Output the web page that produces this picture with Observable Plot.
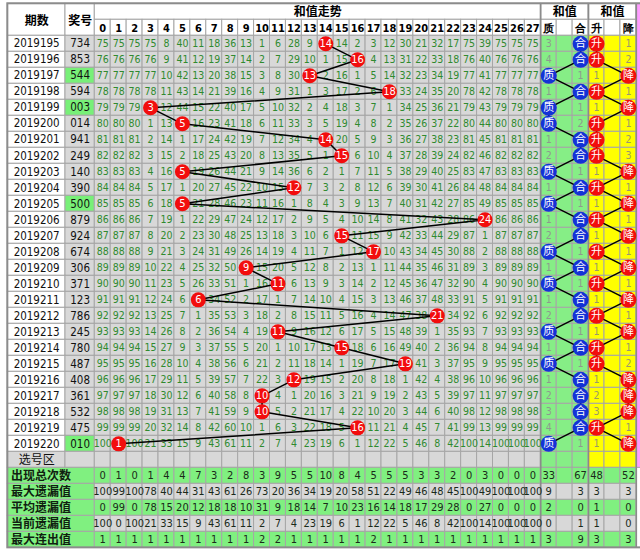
<!DOCTYPE html>
<html><head><meta charset="utf-8">
<script src="https://cdn.jsdelivr.net/npm/d3@7"></script>
<script src="https://cdn.jsdelivr.net/npm/@observablehq/plot@0.6"></script>
<style>body{margin:0;background:#fff;}</style>
</head><body><div id="chart"></div>
<script>
// ---------- data ----------
const periods = ["2019195","2019196","2019197","2019198","2019199","2019200","2019201","2019202","2019203","2019204","2019205","2019206","2019207","2019208","2019209","2019210","2019211","2019212","2019213","2019214","2019215","2019216","2019217","2019218","2019219","2019220"];
const draws = ["734","853","544","594","003","014","941","249","140","390","500","879","924","674","306","371","123","786","245","780","487","408","361","532","475","010"];
const sums = [14,16,13,18,3,5,14,15,5,12,5,24,15,17,9,11,6,21,11,15,19,12,10,10,16,1];
const sumTicks = ["0","1","2","3","4","5","6","7","8","9","10","11","12","13","14","15","16","17","18","19","20","21","22","23","24","25","26","27"];
const missRows = [
"75 75 75 75 8 40 11 18 36 13 1 6 28 9 0 14 2 3 12 30 21 32 17 75 39 75 75 75",
"76 76 76 76 9 41 12 19 37 14 2 7 29 10 1 15 0 4 13 31 22 33 18 76 40 76 76 76",
"77 77 77 77 10 42 13 20 38 15 3 8 30 0 2 16 1 5 14 32 23 34 19 77 41 77 77 77",
"78 78 78 78 11 43 14 21 39 16 4 9 31 1 3 17 2 6 0 33 24 35 20 78 42 78 78 78",
"79 79 79 0 12 44 15 22 40 17 5 10 32 2 4 18 3 7 1 34 25 36 21 79 43 79 79 79",
"80 80 80 1 13 0 16 23 41 18 6 11 33 3 5 19 4 8 2 35 26 37 22 80 44 80 80 80",
"81 81 81 2 14 1 17 24 42 19 7 12 34 4 0 20 5 9 3 36 27 38 23 81 45 81 81 81",
"82 82 82 3 15 2 18 25 43 20 8 13 35 5 1 0 6 10 4 37 28 39 24 82 46 82 82 82",
"83 83 83 4 16 0 19 26 44 21 9 14 36 6 2 1 7 11 5 38 29 40 25 83 47 83 83 83",
"84 84 84 5 17 1 20 27 45 22 10 15 0 7 3 2 8 12 6 39 30 41 26 84 48 84 84 84",
"85 85 85 6 18 0 21 28 46 23 11 16 1 8 4 3 9 13 7 40 31 42 27 85 49 85 85 85",
"86 86 86 7 19 1 22 29 47 24 12 17 2 9 5 4 10 14 8 41 32 43 28 86 0 86 86 86",
"87 87 87 8 20 2 23 30 48 25 13 18 3 10 6 0 11 15 9 42 33 44 29 87 1 87 87 87",
"88 88 88 9 21 3 24 31 49 26 14 19 4 11 7 1 12 0 10 43 34 45 30 88 2 88 88 88",
"89 89 89 10 22 4 25 32 50 0 15 20 5 12 8 2 13 1 11 44 35 46 31 89 3 89 89 89",
"90 90 90 11 23 5 26 33 51 1 16 0 6 13 9 3 14 2 12 45 36 47 32 90 4 90 90 90",
"91 91 91 12 24 6 0 34 52 2 17 1 7 14 10 4 15 3 13 46 37 48 33 91 5 91 91 91",
"92 92 92 13 25 7 1 35 53 3 18 2 8 15 11 5 16 4 14 47 38 0 34 92 6 92 92 92",
"93 93 93 14 26 8 2 36 54 4 19 0 9 16 12 6 17 5 15 48 39 1 35 93 7 93 93 93",
"94 94 94 15 27 9 3 37 55 5 20 1 10 17 13 0 18 6 16 49 40 2 36 94 8 94 94 94",
"95 95 95 16 28 10 4 38 56 6 21 2 11 18 14 1 19 7 17 0 41 3 37 95 9 95 95 95",
"96 96 96 17 29 11 5 39 57 7 22 3 0 19 15 2 20 8 18 1 42 4 38 96 10 96 96 96",
"97 97 97 18 30 12 6 40 58 8 0 4 1 20 16 3 21 9 19 2 43 5 39 97 11 97 97 97",
"98 98 98 19 31 13 7 41 59 9 0 5 2 21 17 4 22 10 20 3 44 6 40 98 12 98 98 98",
"99 99 99 20 32 14 8 42 60 10 1 6 3 22 18 5 0 11 21 4 45 7 41 99 13 99 99 99",
"100 0 100 21 33 15 9 43 61 11 2 7 4 23 19 6 1 12 22 5 46 8 42 100 14 100 100 100"
];
const sideHeaders = ["质","","合","升","","降"];
const zhiHe = ["合","合","质","合","质","质","合","合","质","合","质","合","合","质","合","质","合","合","质","合","质","合","合","合","合","质"];
const zhiHeMiss = [3,4,1,1,1,2,1,2,1,1,1,1,2,1,1,1,1,2,1,1,1,1,2,3,4,1];
const shengJiang = ["升","升","降","升","降","升","升","升","降","升","降","升","降","升","降","升","降","升","降","升","升","降","降","降","升","降"];
const shengJiangMiss = [1,2,1,1,1,1,2,3,1,1,1,1,1,1,1,1,1,1,1,1,2,1,2,3,1,1];
const statLabels = ["出现总次数","最大遗漏值","平均遗漏值","当前遗漏值","最大连出值"];
const statValues = [
 [0,1,0,1,4,4,7,3,2,8,3,9,5,5,10,8,4,5,5,5,3,3,2,0,3,0,0,0],
 [100,99,100,78,40,44,31,43,61,26,73,20,36,34,19,20,58,51,22,49,46,48,45,100,49,100,100,100],
 [0,99,0,78,15,20,12,18,18,10,31,9,18,14,7,10,23,16,14,18,17,29,28,0,27,0,0,0],
 [100,0,100,21,33,15,9,43,61,11,2,7,4,23,19,6,1,12,22,5,46,8,42,100,14,100,100,100],
 [1,1,1,1,1,1,1,1,1,1,2,2,1,1,1,1,1,2,1,1,1,1,1,1,1,1,1,1]
];
const statSide = [[33,"",67,48,"",52],[9,"",3,3,"",3],[2,"",0,1,"",0],[0,"",1,1,"",0],[3,"",9,3,"",3]];

// ---------- layout (column units / row units) ----------
const QX1 = -5.46, QX2 = -1.84, JX2 = 0;   // 期数, 奖号 column edges
const NC = sumTicks.length;               // 28 trend columns
const SIDE0 = NC;                          // first side column
const ROW_PICK = periods.length;           // 选号区 row
const ROW_STAT = ROW_PICK + 1;
const ROW_END = ROW_STAT + statLabels.length;
const col = {white:"#ffffff", gray:"#d8d8d8", green:"#86ee86", stat:"#80f080", yellow:"#ffff00", pink:"#ff9cff", hit:"#78f078"};
const NUM = "'Liberation Sans Narrow','DejaVu Sans Condensed','Liberation Sans',Arial,sans-serif";
const CJK = "'Noto Sans CJK SC','Noto Sans',sans-serif";

// ---------- build tables ----------
const rects = [];
const R = (x1,x2,y1,y2,fill)=>rects.push({x1,x2,y1,y2,fill});
// headers
R(QX1,QX2,-2,0,col.white); R(QX2,JX2,-2,0,col.white);
R(0,NC,-2,-1,col.white); R(SIDE0,SIDE0+3,-2,-1,col.white); R(SIDE0+3,SIDE0+6,-2,-1,col.white);
sumTicks.forEach((t,k)=>R(k,k+1,-1,0,col.white));
sideHeaders.forEach((t,j)=>R(SIDE0+j,SIDE0+j+1,-1,0,col.white));
R(SIDE0+6,SIDE0+7,-2,ROW_STAT,col.pink);
// draw rows + 选号区
for (let r=0;r<=ROW_PICK;r++){
  const isPick = r===ROW_PICK;
  R(QX1,QX2,r,r+1,isPick?col.gray:col.white);
  const rep = !isPick && new Set(draws[r]).size<3;
  R(QX2,JX2,r,r+1,rep?col.hit:col.gray);
  for (let k=0;k<NC;k++) R(k,k+1,r,r+1,col.gray);
  for (let j=0;j<6;j++) R(SIDE0+j,SIDE0+j+1,r,r+1,j<3?col.green:col.yellow);
}
// stats rows
statLabels.forEach((l,i)=>{
  const r=ROW_STAT+i, f = i%2===0?col.stat:col.gray;
  R(QX1,JX2,r,r+1,col.stat);
  for (let k=0;k<NC+6;k++) R(k,k+1,r,r+1,f);
});

const missCells = [];
missRows.forEach((s,r)=>s.split(" ").map(Number).forEach((v,k)=>{ if(v!==0) missCells.push({x:k+0.5,y:r+0.5,v}); }));
const hits = sums.map((s,r)=>({x:s+0.5,y:r+0.5,v:s}));
const zh = zhiHe.map((v,r)=>({x:SIDE0+sideHeaders.indexOf(v)+0.5,y:r+0.5,v}));
const zhM = zhiHe.map((v,r)=>({x:SIDE0+(v==="质"?2:0)+0.5,y:r+0.5,v:zhiHeMiss[r]}));
const sj = shengJiang.map((v,r)=>({x:SIDE0+sideHeaders.indexOf(v)+0.5,y:r+0.5,v}));
const sjM = shengJiang.map((v,r)=>({x:SIDE0+(v==="升"?5:3)+0.5,y:r+0.5,v:shengJiangMiss[r]}));
const statTexts = [];
statValues.forEach((row,i)=>{
  row.forEach((v,k)=>statTexts.push({x:k+0.5,y:ROW_STAT+i+0.5,v}));
  statSide[i].forEach((v,j)=>{ if(v!=="") statTexts.push({x:SIDE0+j+0.5,y:ROW_STAT+i+0.5,v}); });
});
const heads = sumTicks.map((t,k)=>({x:k+0.5,y:-0.45,v:t})).concat(sideHeaders.map((t,j)=>({x:SIDE0+j+0.5,y:-0.45,v:t})));

const plot = Plot.plot({
  width:640, height:560, margin:0,
  x:{domain:[-5.92,34.26], range:[0,640], axis:null},
  y:{domain:[-2.206,32.79], range:[0,560], axis:null},
  color:{type:"identity"},
  style:{background:"#fff", overflow:"hidden"},
  marks:[
    Plot.rect(rects,{x1:"x1",x2:"x2",y1:"y1",y2:"y2",fill:"fill",stroke:"#a6a6a6",strokeWidth:1}),
    Plot.ruleX([SIDE0,SIDE0+3,SIDE0+6],{y1:-2,y2:ROW_END,stroke:"#8a8a8a",strokeWidth:1.5}),
    Plot.rect([{}],{x1:QX1,x2:40,y1:-2,y2:ROW_END,fill:"none",stroke:"#8c8c8c",strokeWidth:2}),
    // header text
    Plot.text(["期数"],{x:(QX1+QX2)/2,y:-0.9,text:d=>d,fontSize:12,fontWeight:"bold",fontFamily:CJK,fill:"#000"}),
    Plot.text(["奖号"],{x:(QX2+JX2)/2,y:-0.9,text:d=>d,fontSize:12,fontWeight:"bold",fontFamily:CJK,fill:"#000"}),
    Plot.text(["和值走势"],{x:NC/2,y:-1.45,text:d=>d,fontSize:12,fontWeight:"bold",fontFamily:CJK,fill:"#000"}),
    Plot.text(["和值","和值"],{x:(d,i)=>SIDE0+1.5+3*i,y:-1.45,text:d=>d,fontSize:12,fontWeight:"bold",fontFamily:CJK,fill:"#000"}),
    Plot.text(heads,{x:"x",y:"y",text:"v",fontSize:11,fontWeight:"bold",fontFamily:NUM,fill:"#000"}),
    // row labels
    Plot.text(periods,{x:(QX1+QX2)/2,y:(d,i)=>i+0.5,text:d=>d,fontSize:11.5,fontFamily:NUM,fill:"#111"}),
    Plot.text(draws,{x:(QX2+JX2)/2,y:(d,i)=>i+0.5,text:d=>d,fontSize:11.5,fontFamily:NUM,fill:"#111"}),
    Plot.text(["选号区"],{x:(QX1+QX2)/2,y:ROW_PICK+0.5,text:d=>d,fontSize:12,fontFamily:CJK,fill:"#111"}),
    // trend cells
    Plot.text(missCells,{x:"x",y:"y",text:"v",fontSize:10.5,fontFamily:NUM,fill:"#2f8a2f"}),
    Plot.line(hits,{x:"x",y:"y",stroke:"#000",strokeWidth:1.5}),
    Plot.dot(hits,{x:"x",y:"y",r:7.5,fill:"#f20d0d",stroke:"none"}),
    Plot.text(hits,{x:"x",y:"y",text:"v",fontSize:11,fontFamily:NUM,fill:"#fff"}),
    // side sections
    Plot.text(zhM,{x:"x",y:"y",text:"v",fontSize:10.5,fontFamily:NUM,fill:"#8e9a8e"}),
    Plot.text(sjM,{x:"x",y:"y",text:"v",fontSize:10.5,fontFamily:NUM,fill:"#9a9a6a"}),
    Plot.line(zh,{x:"x",y:"y",stroke:"#000",strokeWidth:1.5}),
    Plot.line(sj,{x:"x",y:"y",stroke:"#000",strokeWidth:1.5}),
    Plot.dot(zh,{x:"x",y:"y",r:8,fill:"#1432d6",stroke:"none"}),
    Plot.text(zh,{x:"x",y:"y",text:"v",fontSize:11,fontFamily:CJK,fill:"#fff"}),
    Plot.dot(sj,{x:"x",y:"y",r:8,fill:"#f20d0d",stroke:"none"}),
    Plot.text(sj,{x:"x",y:"y",text:"v",fontSize:11,fontFamily:CJK,fill:"#fff"}),
    // stats
    Plot.text(statLabels,{x:QX1+0.2,y:(d,i)=>ROW_STAT+i+0.5,text:d=>d,textAnchor:"start",fontSize:12,fontWeight:"bold",fontFamily:CJK,fill:"#102010"}),
    Plot.text(statTexts,{x:"x",y:"y",text:"v",fontSize:11,fontFamily:NUM,fill:"#1a2a1a"})
  ]
});
document.getElementById("chart").appendChild(plot);
</script>
</body></html>
